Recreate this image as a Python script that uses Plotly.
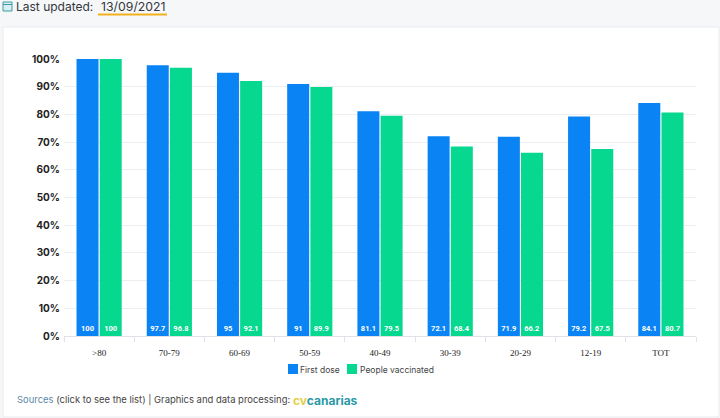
import plotly.graph_objects as go

categories = [">80", "70-79", "60-69", "50-59", "40-49", "30-39", "20-29", "12-19", "TOT"]
first_dose = [100, 97.7, 95, 91, 81.1, 72.1, 71.9, 79.2, 84.1]
vaccinated = [100, 96.8, 92.1, 89.9, 79.5, 68.4, 66.2, 67.5, 80.7]
y_ticks = [0, 10, 20, 30, 40, 50, 60, 70, 80, 90, 100]
y_labels = [f"{v}%" for v in y_ticks]
series_names = ["First dose", "People vaccinated"]
series_colors = ["#0a84f5", "#06d88f"]

W, H = 720, 418
L, R, T, B = 64, 696, 59, 336


def px(x):
    return (x - L) / (R - L)


def py(y):
    return (B - y) / (B - T)


def bars(name, values, color):
    return go.Bar(
        name=name, x=categories, y=values, marker=dict(color=color, line=dict(width=0)),
        text=[str(v) for v in values], textposition="inside", insidetextanchor="start",
        textangle=0, constraintext="none",
        textfont=dict(family="Roboto, sans-serif", size=7.5, color="white", weight=700),
        hoverinfo="x+y",
    )


fig = go.Figure([bars(series_names[0], first_dose, series_colors[0]),
                 bars(series_names[1], vaccinated, series_colors[1])])

shapes = [
    dict(type="rect", xref="paper", yref="paper", x0=px(3), x1=px(719), y0=py(417), y1=py(27),
         fillcolor="white", line=dict(color="#e9ebee", width=1), layer="below"),
    dict(type="line", xref="paper", yref="paper", x0=px(98), x1=px(167), y0=py(14.5), y1=py(14.5),
         line=dict(color="#f2b01e", width=2)),
    dict(type="rect", xref="paper", yref="paper", x0=px(3), x1=px(12), y0=py(11), y1=py(2),
         fillcolor="#d9eef0", line=dict(color="#3f9aa5", width=1)),
    dict(type="line", xref="paper", yref="paper", x0=px(3), x1=px(12), y0=py(4.5), y1=py(4.5),
         line=dict(color="#3f9aa5", width=1)),
    dict(type="rect", xref="paper", yref="paper", x0=px(288), x1=px(298), y0=py(374), y1=py(364),
         fillcolor=series_colors[0], line=dict(width=0)),
    dict(type="rect", xref="paper", yref="paper", x0=px(347), x1=px(357), y0=py(374), y1=py(364),
         fillcolor=series_colors[1], line=dict(width=0)),
]


def note(x, y, text, size=9, color="#444", family="Inter, sans-serif", anchor="left"):
    return dict(xref="paper", yref="paper", x=px(x), y=py(y), text=text, showarrow=False,
                xanchor=anchor, yanchor="middle", borderpad=0,
                font=dict(size=size, color=color, family=family))


annotations = [
    note(15, 6.5, "Last updated:", 12, "#33373d"),
    note(100, 6.5, "13/09/2021", 12.3, "#33373d"),
    note(16, 400, '<span style="color:#5b8aa8">Sources</span> (click to see the list) | Graphics and data processing:',
         9.45, "#444"),
    note(292, 400, '<b><span style="color:#e3d04a">cv</span><span style="color:#2b9aa6">canarias</span></b>',
         12, "#2b9aa6"),
    note(299, 369.5, series_names[0], 8.5, "#444"),
    note(359, 369.5, series_names[1], 8.5, "#444"),
]

fig.update_layout(
    width=W, height=H, autosize=False,
    margin=dict(l=L, r=W - R, t=T, b=H - B),
    paper_bgcolor="#f6f7f9", plot_bgcolor="white",
    barmode="group", bargap=0.34, bargroupgap=0.05,
    showlegend=False,
    shapes=shapes, annotations=annotations,
    xaxis=dict(type="category", tickson="boundaries", ticks="outside", ticklen=5,
               tickcolor="#dfe3e8", linecolor="#dfe3e8", showline=True, showgrid=False,
               ticklabelstandoff=8,
               tickfont=dict(family="Liberation Serif, serif", size=9, color="#222")),
    yaxis=dict(range=[0, 100], tickvals=y_ticks, ticktext=y_labels, showline=False,
               gridcolor="#eceef1", zeroline=False, ticks="", ticklen=0, ticklabelstandoff=3,
               tickfont=dict(family="Inter, sans-serif", size=10, color="#222", weight=700)),
)

fig.write_html("out.html", config={"displayModeBar": False},
               post_script="document.body.style.margin='0';document.documentElement.style.overflow='hidden';")
